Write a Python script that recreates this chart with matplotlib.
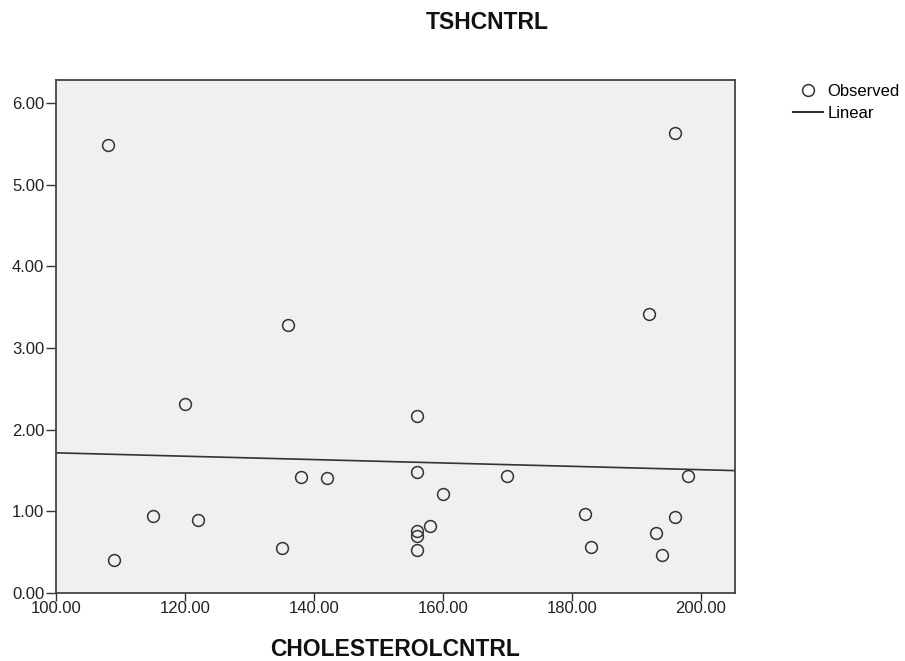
import numpy as np
import matplotlib
matplotlib.use("Agg")
import matplotlib.pyplot as plt
from matplotlib.lines import Line2D

# Data
cholesterol = [108, 196, 136, 192, 120, 156, 156, 170, 160, 158, 156, 156, 156,
               182, 183, 138, 142, 115, 122, 135, 109, 198, 196, 193, 194]
tsh = [5.49, 5.63, 3.28, 3.42, 2.31, 2.17, 1.48, 1.43, 1.21, 0.82, 0.76, 0.70, 0.53,
       0.97, 0.56, 1.42, 1.41, 0.94, 0.89, 0.55, 0.41, 1.43, 0.93, 0.74, 0.47]

x_ticks = [100, 120, 140, 160, 180, 200]
y_ticks = [0, 1, 2, 3, 4, 5, 6]
title = "TSHCNTRL"
xlabel = "CHOLESTEROLCNTRL"
legend_labels = ["Observed", "Linear"]

plt.rcParams['font.family'] = ['Liberation Sans', 'DejaVu Sans']

W, H = 905, 661
fig = plt.figure(figsize=(W / 100, H / 100), dpi=100)
left, right, top, bottom = 56, 735, 80, 593
ax = fig.add_axes([left / W, 1 - bottom / H, (right - left) / W, (bottom - top) / H])
ax.set_facecolor("#f0f0f0")

xmin, xmax = 100, 205.3
ax.set_xlim(xmin, xmax)
ax.set_ylim(0, 6.28)

# linear fit
slope, intercept = np.polyfit(cholesterol, tsh, 1)
xs = np.array([xmin, xmax])
ax.plot(xs, intercept + slope * xs, color="#333333", lw=1.2, zorder=2)

ax.plot(cholesterol, tsh, linestyle="none", marker="o", markersize=8.5,
        markerfacecolor="none", markeredgecolor="#333333", markeredgewidth=1.1, zorder=3)

ax.set_xticks(x_ticks)
ax.set_yticks(y_ticks)
ax.set_xticklabels([f"{v:.2f}" for v in x_ticks])
ax.set_yticklabels([f"{v:.2f}" for v in y_ticks])
ax.tick_params(direction="out", length=7, width=1.0, color="#333333",
               labelsize=12, pad=1.5, labelcolor="#222222")
ax.tick_params(axis="x", length=5.5, pad=0.5)
for s in ax.spines.values():
    s.set_color("#444444")
    s.set_linewidth(1.3)

fig.text(487 / W, 1 - 29 / H, title, ha="center", va="baseline",
         fontsize=16.5, fontweight="bold", color="#111111")
fig.text(395 / W, 1 - 656 / H, xlabel, ha="center", va="baseline",
         fontsize=16.5, fontweight="bold", color="#111111")

handles = [Line2D([], [], linestyle="none", marker="o", markersize=8.5,
                  markerfacecolor="none", markeredgecolor="#333333", markeredgewidth=1.1),
           Line2D([], [], color="#333333", lw=1.5)]
fig.legend(handles, legend_labels, loc="upper left",
           bbox_to_anchor=(793 / W, 1 - 84 / H), frameon=False, fontsize=12,
           handlelength=1.8, handletextpad=0.25, labelspacing=0.42,
           borderpad=0, borderaxespad=0)

fig.savefig("out.png", dpi=100)
